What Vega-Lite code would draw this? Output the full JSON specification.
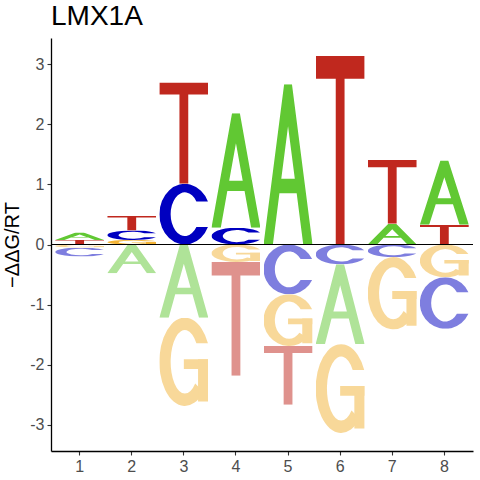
{
  "$schema": "https://vega.github.io/schema/vega-lite/v6.json",
  "autosize": "none",
  "padding": {"left": 51, "top": 38, "right": 7, "bottom": 29},
  "width": 422,
  "height": 413,
  "title": {
    "text": "LMX1A",
    "anchor": "start",
    "frame": "group",
    "font": "Liberation Sans",
    "fontSize": 28,
    "fontWeight": "normal",
    "color": "black",
    "offset": 7
  },
  "config": {
    "view": {"stroke": null},
    "axis": {
      "grid": false,
      "domainColor": "black",
      "domainWidth": 1.3,
      "tickColor": "#333333",
      "tickSize": 4,
      "tickWidth": 1.1,
      "labelFont": "Liberation Sans",
      "labelFontSize": 16,
      "labelColor": "#4D4D4D",
      "labelPadding": 3,
      "titleFont": "Liberation Sans",
      "titleFontSize": 20,
      "titleFontWeight": "normal",
      "titleColor": "black"
    }
  },
  "datasets": {
    "energies": [
      {"pos": 1, "base": "T", "energy": 0.075},
      {"pos": 1, "base": "A", "energy": 0.125},
      {"pos": 1, "base": "G", "energy": -0.05},
      {"pos": 1, "base": "C", "energy": -0.15},
      {"pos": 2, "base": "G", "energy": 0.075},
      {"pos": 2, "base": "C", "energy": 0.16},
      {"pos": 2, "base": "T", "energy": 0.245},
      {"pos": 2, "base": "A", "energy": -0.48},
      {"pos": 3, "base": "C", "energy": 1.01},
      {"pos": 3, "base": "T", "energy": 1.69},
      {"pos": 3, "base": "A", "energy": -1.22},
      {"pos": 3, "base": "G", "energy": -1.47},
      {"pos": 4, "base": "C", "energy": 0.28},
      {"pos": 4, "base": "A", "energy": 1.905},
      {"pos": 4, "base": "G", "energy": -0.29},
      {"pos": 4, "base": "T", "energy": -1.895},
      {"pos": 5, "base": "A", "energy": 2.67},
      {"pos": 5, "base": "C", "energy": -0.83},
      {"pos": 5, "base": "G", "energy": -0.86},
      {"pos": 5, "base": "T", "energy": -0.98},
      {"pos": 6, "base": "T", "energy": 3.14},
      {"pos": 6, "base": "C", "energy": -0.33},
      {"pos": 6, "base": "A", "energy": -1.33},
      {"pos": 6, "base": "G", "energy": -1.48},
      {"pos": 7, "base": "A", "energy": 0.345},
      {"pos": 7, "base": "T", "energy": 1.07},
      {"pos": 7, "base": "C", "energy": -0.21},
      {"pos": 7, "base": "G", "energy": -1.205},
      {"pos": 8, "base": "T", "energy": 0.33},
      {"pos": 8, "base": "A", "energy": 1.07},
      {"pos": 8, "base": "G", "energy": -0.545},
      {"pos": 8, "base": "C", "energy": -0.86}
    ],
    "glyphs": [
      {"base": "A", "glyph": "data:image/svg+xml;charset=utf-8,%3Csvg xmlns='http://www.w3.org/2000/svg' viewBox='0 0 100 100' preserveAspectRatio='none'%3E%3Cpath fill='%2361C833' fill-rule='evenodd' d='M0 100L42 0H58L100 100H81L67.6 68H32.4L19 100ZM36.2 59H63.8L50 26.2Z'/%3E%3C/svg%3E"},
      {"base": "C", "glyph": "data:image/svg+xml;charset=utf-8,%3Csvg xmlns='http://www.w3.org/2000/svg' viewBox='0 0 100 100' preserveAspectRatio='none'%3E%3Cpath fill='%230000C0' d='M99.2 29A52 50 0 1 0 99.2 71L75.6 71A29 36 0 1 1 75.6 29Z'/%3E%3C/svg%3E"},
      {"base": "G", "glyph": "data:image/svg+xml;charset=utf-8,%3Csvg xmlns='http://www.w3.org/2000/svg' viewBox='0 0 100 100' preserveAspectRatio='none'%3E%3Cg fill='%23F3B335'%3E%3Cpath d='M99.2 29A52 50 0 1 0 90 84.1L73.2 74.6A29 36 0 1 1 75.6 29Z'/%3E%3Cpath d='M50 47H100V58H50Z'/%3E%3Cpath d='M79 47H100V95H79Z'/%3E%3C/g%3E%3C/svg%3E"},
      {"base": "T", "glyph": "data:image/svg+xml;charset=utf-8,%3Csvg xmlns='http://www.w3.org/2000/svg' viewBox='0 0 100 100' preserveAspectRatio='none'%3E%3Cpath fill='%23C0281E' d='M0 0H100V12H59V100H41V12H0Z'/%3E%3C/svg%3E"}
    ]
  },
  "data": {"name": "energies"},
  "encoding": {
    "x": {
      "field": "pos",
      "type": "ordinal",
      "scale": {"type": "band", "domain": [1, 2, 3, 4, 5, 6, 7, 8], "paddingInner": 0.06, "paddingOuter": 0.08},
      "axis": {"title": null, "labelAngle": 0}
    }
  },
  "layer": [
    {
      "transform": [
        {"filter": "datum.energy > 0"},
        {"stack": "energy", "groupby": ["pos"], "sort": [{"field": "energy", "order": "ascending"}], "as": ["lo", "hi"]},
        {"lookup": "base", "from": {"data": {"name": "glyphs"}, "key": "base", "fields": ["glyph"]}}
      ],
      "mark": {"type": "image", "aspect": false},
      "encoding": {
        "y": {
          "field": "lo",
          "type": "quantitative",
          "scale": {"domain": [-3.44, 3.44], "nice": false},
          "axis": {"title": "−ΔΔG/RT", "values": [-3, -2, -1, 0, 1, 2, 3], "labelExpr": "'' + datum.value", "titlePadding": 7}
        },
        "y2": {"field": "hi"},
        "url": {"field": "glyph", "type": "nominal"}
      }
    },
    {
      "transform": [
        {"filter": "datum.energy < 0"},
        {"stack": "energy", "groupby": ["pos"], "sort": [{"field": "energy", "order": "descending"}], "as": ["lo", "hi"]},
        {"lookup": "base", "from": {"data": {"name": "glyphs"}, "key": "base", "fields": ["glyph"]}}
      ],
      "mark": {"type": "image", "aspect": false, "opacity": 0.5},
      "encoding": {
        "y": {"field": "lo", "type": "quantitative"},
        "y2": {"field": "hi"},
        "url": {"field": "glyph", "type": "nominal"}
      }
    },
    {
      "data": {"values": [{}]},
      "mark": {"type": "rule", "color": "black", "strokeWidth": 1},
      "encoding": {"x": null, "y": {"datum": 0}}
    }
  ]
}
